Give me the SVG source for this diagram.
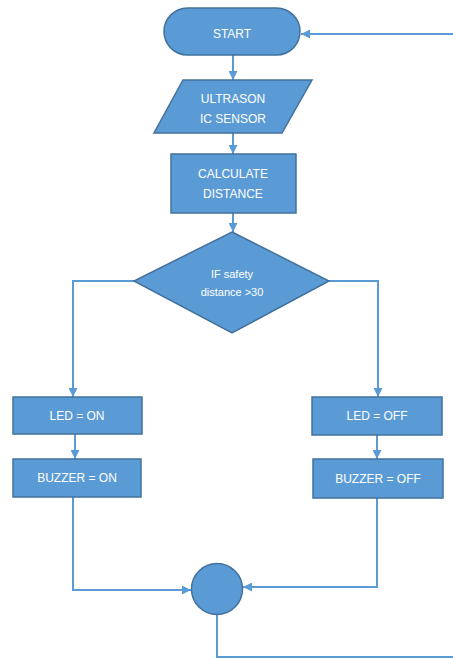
<svg xmlns="http://www.w3.org/2000/svg" width="453" height="659" viewBox="0 0 453 659">
<style>
.n{fill:#5B9BD5;stroke:#41719C;stroke-width:1.5}
.t{fill:#fff;font-family:"Liberation Sans",Arial,sans-serif;font-size:12px;text-anchor:middle}
.s{font-size:11px}
.c{fill:none;stroke:#5B9BD5;stroke-width:2}
</style>
<defs>
<marker id="a" viewBox="0 0 10 10" refX="10" refY="5" markerWidth="4.5" markerHeight="4.5" orient="auto" markerUnits="strokeWidth">
<path d="M0,0 L10,5 L0,10 z" fill="#5B9BD5"/>
</marker>
</defs>
<rect width="453" height="659" fill="#fff"/>
<g id="connectors">
<path class="c" d="M453,34 H301" marker-end="url(#a)"/>
<path class="c" d="M233,55 V80" marker-end="url(#a)"/>
<path class="c" d="M233,133 V154" marker-end="url(#a)"/>
<path class="c" d="M233,213 V232" marker-end="url(#a)"/>
<path class="c" d="M134,281 H73 V397" marker-end="url(#a)"/>
<path class="c" d="M329,281 H378 V397" marker-end="url(#a)"/>
<path class="c" d="M75,434 V459" marker-end="url(#a)"/>
<path class="c" d="M377,435 V459" marker-end="url(#a)"/>
<path class="c" d="M73,497 V590 H191" marker-end="url(#a)"/>
<path class="c" d="M377,498 V587 H243" marker-end="url(#a)"/>
<path class="c" d="M217,615 V657 H453"/>
</g>
<g id="start">
<rect class="n" x="164" y="8" width="136" height="47" rx="23.5"/>
<text class="t" x="232" y="38">START</text>
</g>
<g id="sensor">
<polygon class="n" points="183,80 312,80 282,133 154,133"/>
<text class="t" x="233" y="103">ULTRASON</text>
<text class="t" x="233" y="123">IC SENSOR</text>
</g>
<g id="calc">
<rect class="n" x="171" y="154" width="125" height="59"/>
<text class="t" x="233" y="178">CALCULATE</text>
<text class="t" x="233" y="198">DISTANCE</text>
</g>
<g id="decision">
<polygon class="n" points="232,232 329,281 232,333 134,281"/>
<text class="t s" x="232" y="278">IF safety</text>
<text class="t s" x="232" y="296">distance &gt;30</text>
</g>
<g id="ledon">
<rect class="n" x="13" y="397" width="129" height="37"/>
<text class="t" x="77" y="420">LED = ON</text>
</g>
<g id="buzzon">
<rect class="n" x="13" y="459" width="128" height="38"/>
<text class="t" x="77" y="482">BUZZER = ON</text>
</g>
<g id="ledoff">
<rect class="n" x="312" y="397" width="130" height="38"/>
<text class="t" x="377" y="420">LED = OFF</text>
</g>
<g id="buzzoff">
<rect class="n" x="313" y="459" width="130" height="39"/>
<text class="t" x="378" y="483">BUZZER = OFF</text>
</g>
<g id="join">
<circle class="n" cx="217" cy="589" r="25.5"/>
</g>
</svg>
